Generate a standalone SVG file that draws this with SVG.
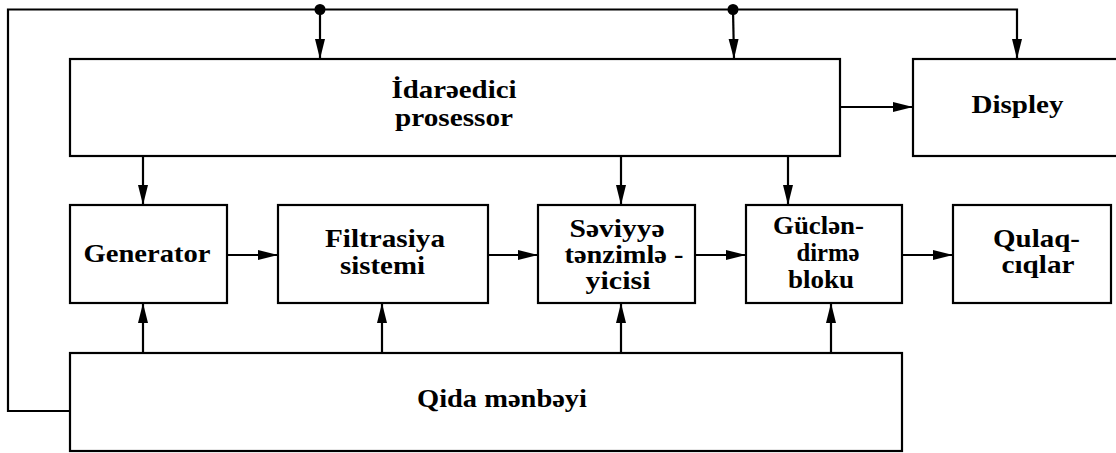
<svg xmlns="http://www.w3.org/2000/svg" width="1116" height="453" viewBox="0 0 1116 453">
<style>
.box{fill:#fff;stroke:#000;stroke-width:2.2}
.ln{fill:none;stroke:#000;stroke-width:2.2}
.t{font-family:"Liberation Serif","Times New Roman",serif;font-weight:bold;font-size:25px;fill:#000;text-anchor:middle}
</style>
<defs>
<marker id="ah" viewBox="0 0 20 12" markerWidth="20" markerHeight="12" refX="20" refY="6" orient="auto" markerUnits="userSpaceOnUse">
<path d="M0,1 L20,6 L0,11 Z" fill="#000"/>
</marker>
</defs>
<rect width="1116" height="453" fill="#fff"/>
<g id="connectors">
<polyline class="ln" points="70,411 8,411 8,9.5 1017,9.5 1017,59" marker-end="url(#ah)"/>
<line class="ln" x1="320" y1="9.5" x2="320" y2="59" marker-end="url(#ah)"/>
<line class="ln" x1="733" y1="9.5" x2="734" y2="59" marker-end="url(#ah)"/>
<circle cx="320" cy="9.5" r="5.5" fill="#000"/>
<circle cx="733" cy="9.5" r="5.5" fill="#000"/>
<line class="ln" x1="840" y1="107" x2="913" y2="107" marker-end="url(#ah)"/>
<line class="ln" x1="143" y1="156" x2="143" y2="205" marker-end="url(#ah)"/>
<line class="ln" x1="621" y1="156" x2="621" y2="205" marker-end="url(#ah)"/>
<line class="ln" x1="788" y1="156" x2="788" y2="205" marker-end="url(#ah)"/>
<line class="ln" x1="227" y1="255" x2="278" y2="255" marker-end="url(#ah)"/>
<line class="ln" x1="488" y1="255" x2="538" y2="255" marker-end="url(#ah)"/>
<line class="ln" x1="695" y1="255" x2="746" y2="255" marker-end="url(#ah)"/>
<line class="ln" x1="902" y1="255" x2="953" y2="255" marker-end="url(#ah)"/>
<line class="ln" x1="143" y1="353" x2="143" y2="303" marker-end="url(#ah)"/>
<line class="ln" x1="382" y1="353" x2="382" y2="303" marker-end="url(#ah)"/>
<line class="ln" x1="621" y1="353" x2="621" y2="303" marker-end="url(#ah)"/>
<line class="ln" x1="831" y1="353" x2="831" y2="303" marker-end="url(#ah)"/>
</g>
<g id="processor">
<rect class="box" x="70" y="59" width="770" height="97"/>
<text class="t" x="454" y="98" textLength="125" lengthAdjust="spacingAndGlyphs">İdarəedici</text>
<text class="t" x="454" y="126" textLength="118" lengthAdjust="spacingAndGlyphs">prosessor</text>
</g>
<g id="display">
<rect class="box" x="913" y="59" width="210" height="97"/>
<text class="t" x="1017.5" y="113" textLength="92" lengthAdjust="spacingAndGlyphs">Displey</text>
</g>
<g id="generator">
<rect class="box" x="70" y="205" width="157" height="98"/>
<text class="t" x="147" y="262" textLength="127" lengthAdjust="spacingAndGlyphs">Generator</text>
</g>
<g id="filtrasiya">
<rect class="box" x="278" y="205" width="210" height="98"/>
<text class="t" x="385" y="247" textLength="120" lengthAdjust="spacingAndGlyphs">Filtrasiya</text>
<text class="t" x="382.5" y="274" textLength="85" lengthAdjust="spacingAndGlyphs">sistemi</text>
</g>
<g id="seviyye">
<rect class="box" x="538" y="205" width="157" height="98"/>
<text class="t" x="617" y="237" textLength="95" lengthAdjust="spacingAndGlyphs">Səviyyə</text>
<text class="t" x="624" y="263" textLength="119" lengthAdjust="spacingAndGlyphs">tənzimlə -</text>
<text class="t" x="618" y="289" textLength="65" lengthAdjust="spacingAndGlyphs">yicisi</text>
</g>
<g id="guclendirme">
<rect class="box" x="746" y="205" width="156" height="98"/>
<text class="t" x="818.5" y="234" textLength="91" lengthAdjust="spacingAndGlyphs">Güclən-</text>
<text class="t" x="828" y="261" textLength="63" lengthAdjust="spacingAndGlyphs">dirmə</text>
<text class="t" x="821" y="288" textLength="66" lengthAdjust="spacingAndGlyphs">bloku</text>
</g>
<g id="qulaqciqlar">
<rect class="box" x="953" y="205" width="158" height="98"/>
<text class="t" x="1036.5" y="247" textLength="87" lengthAdjust="spacingAndGlyphs">Qulaq-</text>
<text class="t" x="1038" y="273" textLength="73" lengthAdjust="spacingAndGlyphs">cıqlar</text>
</g>
<g id="qida">
<rect class="box" x="70" y="353" width="832" height="98"/>
<text class="t" x="502" y="407" textLength="170" lengthAdjust="spacingAndGlyphs">Qida mənbəyi</text>
</g>
</svg>
